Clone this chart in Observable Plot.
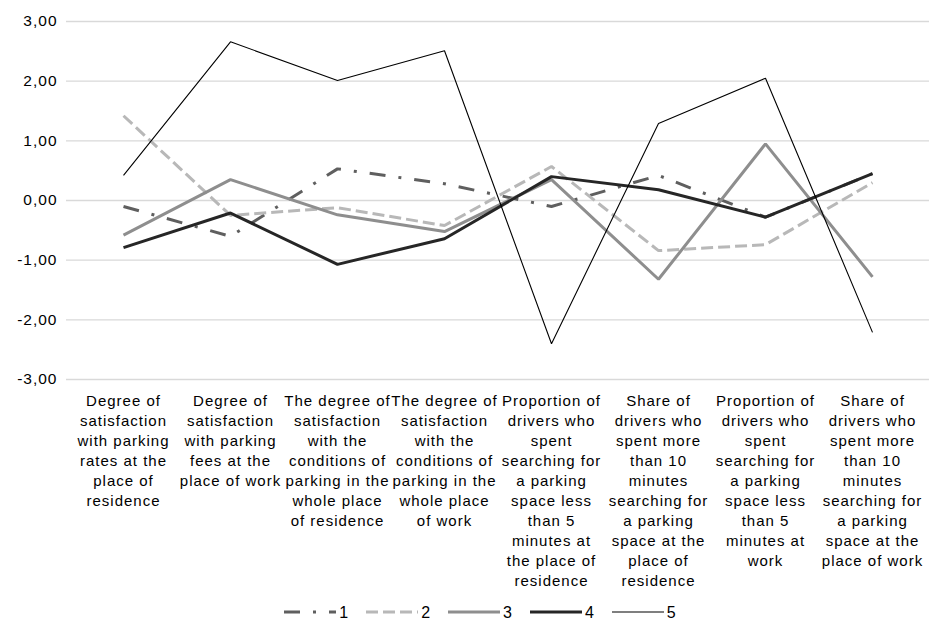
<!DOCTYPE html>
<html>
<head>
<meta charset="utf-8">
<script src="https://cdn.jsdelivr.net/npm/d3@7"></script>
<script src="https://cdn.jsdelivr.net/npm/@observablehq/plot@0.6"></script>
<style>
  body { margin: 0; background: #fff; font-family: "Liberation Sans", Arial, sans-serif; }
  #chart svg { display: block; }
  #legend { display: flex; justify-content: center; align-items: center; gap: 17px; height: 20px; padding-top: 10px; margin-left: 30px; font-size: 16px; line-height: 17px; letter-spacing: 1px; color: #000; }
  .item { display: flex; align-items: center; gap: 3px; }
</style>
</head>
<body>
<div id="chart"></div>
<div id="legend"></div>
<script>
const categories = [
  "Degree of\nsatisfaction\nwith parking\nrates at the\nplace of\nresidence",
  "Degree of\nsatisfaction\nwith parking\nfees at the\nplace of work",
  "The degree of\nsatisfaction\nwith the\nconditions of\nparking in the\nwhole place\nof residence",
  "The degree of\nsatisfaction\nwith the\nconditions of\nparking in the\nwhole place\nof work",
  "Proportion of\ndrivers who\nspent\nsearching for\na parking\nspace less\nthan 5\nminutes at\nthe place of\nresidence",
  "Share of\ndrivers who\nspent more\nthan 10\nminutes\nsearching for\na parking\nspace at the\nplace of\nresidence",
  "Proportion of\ndrivers who\nspent\nsearching for\na parking\nspace less\nthan 5\nminutes at\nwork",
  "Share of\ndrivers who\nspent more\nthan 10\nminutes\nsearching for\na parking\nspace at the\nplace of work"
];
const seriesNames = ["1", "2", "3", "4", "5"];
const series1 = [-0.10, -0.60, 0.53, 0.28, -0.10, 0.42, -0.28, 0.45];
const series2 = [1.42, -0.25, -0.12, -0.42, 0.57, -0.84, -0.74, 0.30];
const series3 = [-0.58, 0.35, -0.24, -0.52, 0.35, -1.32, 0.95, -1.28];
const series4 = [-0.79, -0.21, -1.07, -0.64, 0.40, 0.18, -0.28, 0.45];
const series5 = [0.42, 2.66, 2.01, 2.51, -2.40, 1.29, 2.05, -2.21];
const yTicks = [-3, -2, -1, 0, 1, 2, 3];
const yTickLabels = ["-3,00", "-2,00", "-1,00", "0,00", "1,00", "2,00", "3,00"];

const allSeries = [series1, series2, series3, series4, series5];
const styles = [
  {stroke: "#5f5f5f", strokeWidth: 3, strokeDasharray: "16,13,3,13"},
  {stroke: "#b8b8b8", strokeWidth: 3, strokeDasharray: "12,5"},
  {stroke: "#8e8e8e", strokeWidth: 3},
  {stroke: "#262626", strokeWidth: 3},
  {stroke: "#000000", strokeWidth: 1.1}
];
const data = allSeries.map((vals, si) => vals.map((v, i) => ({series: seriesNames[si], cat: categories[i], value: v})));

const chart = Plot.plot({
  width: 931,
  height: 592,
  marginLeft: 66,
  marginRight: 2,
  marginTop: 21,
  marginBottom: 213,
  style: {fontFamily: "'Liberation Sans', Arial, sans-serif", fontSize: "15px", letterSpacing: "1px", color: "#000", background: "#fff"},
  x: {type: "point", domain: categories, padding: 0.5, label: null},
  y: {domain: [-3, 3], ticks: yTicks, label: null},
  marks: [
    Plot.gridY(yTicks, {stroke: "#d9d9d9", strokeOpacity: 1, strokeWidth: 1.3}),
    Plot.axisY({ticks: yTicks, tickSize: 0, tickPadding: 9, fontSize: 15.5, tickFormat: (d) => yTickLabels[yTicks.indexOf(d)], label: null}),
    Plot.axisX({tickSize: 0, tickPadding: 12, fontSize: 15, lineHeight: 20 / 15, label: null, fill: "#000"}),
    ...data.map((d, i) => Plot.line(d, {x: "cat", y: "value", ...styles[i], strokeLinejoin: "miter", strokeLinecap: "butt"}))
  ]
});
document.getElementById("chart").append(chart);

const legend = document.getElementById("legend");
seriesNames.forEach((name, i) => {
  const s = styles[i];
  const item = document.createElement("div");
  item.className = "item";
  item.innerHTML = `<svg width="52" height="10"><line x1="0" y1="5" x2="52" y2="5" stroke="${s.stroke}" stroke-width="${s.strokeWidth}" ${s.strokeDasharray ? `stroke-dasharray="${s.strokeDasharray}"` : ""}/></svg><span>${name}</span>`;
  legend.append(item);
});
</script>
</body>
</html>
